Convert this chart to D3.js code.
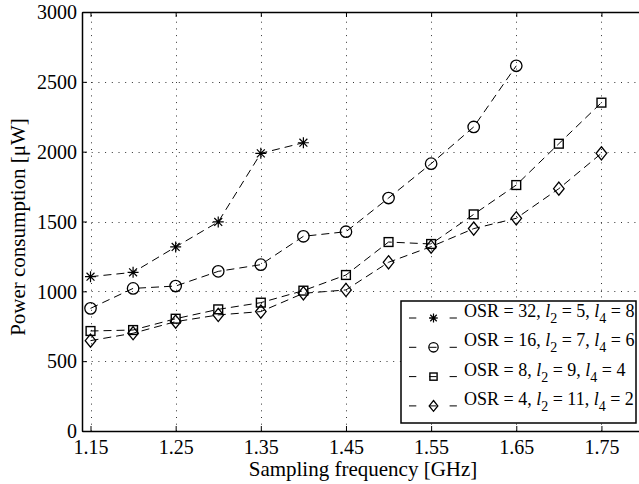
<!DOCTYPE html>
<html>
<head>
<meta charset="utf-8">
<script src="https://cdn.jsdelivr.net/npm/d3@7/dist/d3.min.js"></script>
<style>
  body { margin: 0; background: #fff; }
  svg text { font-family: "Liberation Serif", "Times New Roman", serif; fill: #000; }
</style>
</head>
<body>
<div id="chart"></div>
<script>
// sampling frequency [GHz]
const freqs = [1.15, 1.2, 1.25, 1.3, 1.35, 1.4, 1.45, 1.5, 1.55, 1.6, 1.65, 1.7, 1.75];
// power consumption [uW]
const osr32 = [1105, 1136, 1318, 1497, 1988, 2064];
const osr16 = [878, 1021, 1038, 1143, 1191, 1394, 1427, 1668, 1914, 2177, 2615];
const osr8 = [716, 723, 804, 871, 919, 1005, 1117, 1353, 1339, 1551, 1761, 2057, 2351];
const osr4 = [647, 700, 783, 831, 855, 986, 1010, 1208, 1320, 1449, 1523, 1735, 1988];

const xTicks = [1.15, 1.25, 1.35, 1.45, 1.55, 1.65, 1.75];
const yTicks = [0, 500, 1000, 1500, 2000, 2500, 3000];

// OSR, l2, l4 for the legend
const params = [[32, 5, 8], [16, 7, 6], [8, 9, 4], [4, 11, 2]];
const markers = ["star", "circle", "square", "diamond"];
const seriesValues = [osr32, osr16, osr8, osr4];

const W = 639, H = 484;
const plot = { left: 82, right: 644, top: 12, bottom: 431 };

const svg = d3.select("#chart")
  .append("svg")
  .attr("width", W)
  .attr("height", H)
  .attr("viewBox", [0, 0, W, H]);

const x = d3.scaleLinear().domain([1.14, 1.80]).range([plot.left, plot.right]);
const y = d3.scaleLinear().domain([0, 3000]).range([plot.bottom, plot.top]);

// dotted grid
const grid = svg.append("g").attr("stroke", "#333").attr("stroke-width", 1)
  .attr("stroke-dasharray", "1,5.7");
grid.selectAll("line.v")
  .data(xTicks)
  .join("line")
    .attr("class", "v")
    .attr("x1", d => Math.round(x(d)) + 0.5)
    .attr("x2", d => Math.round(x(d)) + 0.5)
    .attr("y1", plot.top + 3)
    .attr("y2", plot.bottom);
grid.selectAll("line.h")
  .data(yTicks.filter(d => d > 0 && d < 3000))
  .join("line")
    .attr("class", "h")
    .attr("x1", plot.left + 3)
    .attr("x2", plot.right)
    .attr("y1", d => Math.round(y(d)) + 0.5)
    .attr("y2", d => Math.round(y(d)) + 0.5);

// axes with inward ticks
const xAxis = svg.append("g")
  .attr("transform", `translate(0,${plot.bottom})`)
  .call(d3.axisBottom(x).tickValues(xTicks).tickFormat(d3.format(".2f"))
    .tickSize(-5).tickSizeOuter(0).tickPadding(9));
const xAxisTop = svg.append("g")
  .attr("transform", `translate(0,${plot.top})`)
  .call(d3.axisTop(x).tickValues(xTicks).tickFormat("").tickSize(-5).tickSizeOuter(0));
const yAxis = svg.append("g")
  .attr("transform", `translate(${plot.left},0)`)
  .call(d3.axisLeft(y).tickValues(yTicks).tickFormat(d3.format("d"))
    .tickSize(-5).tickSizeOuter(0).tickPadding(5));

[xAxis, xAxisTop, yAxis].forEach(g => {
  g.attr("font-family", null).attr("font-size", null);
  g.select(".domain").attr("stroke", "#000").attr("stroke-width", 1.5);
  g.selectAll(".tick line").attr("stroke", "#000").attr("stroke-width", 1);
  g.selectAll("text").attr("font-size", 20);
});
yAxis.selectAll("text").attr("dy", "0.34em");

// markers
function drawMarker(g, type, cx, cy, s) {
  if (type === "star") {
    const d = s * 0.5, e = d * 0.72;
    g.append("path")
      .attr("d", `M${cx - d},${cy}L${cx + d},${cy}M${cx},${cy - d}L${cx},${cy + d}` +
                 `M${cx - e},${cy - e}L${cx + e},${cy + e}M${cx - e},${cy + e}L${cx + e},${cy - e}`)
      .attr("stroke", "#000").attr("stroke-width", 1.2).attr("fill", "none");
  } else if (type === "circle") {
    g.append("circle").attr("cx", cx).attr("cy", cy).attr("r", s * 0.52)
      .attr("stroke", "#000").attr("stroke-width", 1.3).attr("fill", "none");
  } else if (type === "square") {
    const h = s * 0.4;
    g.append("rect").attr("x", cx - h).attr("y", cy - h).attr("width", 2 * h).attr("height", 2 * h)
      .attr("stroke", "#000").attr("stroke-width", 1.4).attr("fill", "none");
  } else {
    const hw = s * 0.48, hh = s * 0.6;
    g.append("path")
      .attr("d", `M${cx},${cy - hh}L${cx + hw},${cy}L${cx},${cy + hh}L${cx - hw},${cy}Z`)
      .attr("stroke", "#000").attr("stroke-width", 1.3).attr("fill", "none");
  }
}

const line = d3.line().x(d => x(d[0])).y(d => y(d[1]));

seriesValues.forEach((vals, i) => {
  const pts = vals.map((v, j) => [freqs[j], v]);
  const g = svg.append("g");
  g.append("path")
    .attr("d", line(pts))
    .attr("fill", "none")
    .attr("stroke", "#000")
    .attr("stroke-width", 1)
    .attr("stroke-dasharray", "8,5");
  pts.forEach(p => drawMarker(g, markers[i], x(p[0]), y(p[1]), 11));
});

// legend
const leg = { x: 401, y: 301, w: 235, h: 122 };
const lg = svg.append("g");
lg.append("rect")
  .attr("x", leg.x).attr("y", leg.y).attr("width", leg.w).attr("height", leg.h)
  .attr("fill", "#fff").attr("stroke", "#000").attr("stroke-width", 1.5);

params.forEach((p, i) => {
  const cy = 318 + i * 29.3;
  lg.append("line")
    .attr("x1", 409).attr("x2", 457).attr("y1", cy).attr("y2", cy)
    .attr("stroke", "#000").attr("stroke-width", 1)
    .attr("stroke-dasharray", "7.3,13");
  drawMarker(lg, markers[i], 433.5, cy, 9);
  const t = lg.append("text")
    .attr("x", 464).attr("y", cy - 1)
    .attr("font-size", 18)
    .attr("xml:space", "preserve");
  t.append("tspan").text(`OSR = ${p[0]}, `);
  t.append("tspan").attr("font-style", "italic").text("l");
  t.append("tspan").attr("font-size", 14).attr("dy", 6).text("2");
  t.append("tspan").attr("dy", -6).text(` = ${p[1]}, `);
  t.append("tspan").attr("font-style", "italic").text("l");
  t.append("tspan").attr("font-size", 14).attr("dy", 6).text("4");
  t.append("tspan").attr("dy", -6).text(` = ${p[2]}`);
});

// axis labels
svg.append("text")
  .attr("x", 363).attr("y", 476)
  .attr("text-anchor", "middle")
  .attr("font-size", 21)
  .text("Sampling frequency [GHz]");

svg.append("text")
  .attr("transform", "translate(25,227) rotate(-90)")
  .attr("text-anchor", "middle")
  .attr("font-size", 21)
  .text("Power consumption [μW]");
</script>
</body>
</html>
